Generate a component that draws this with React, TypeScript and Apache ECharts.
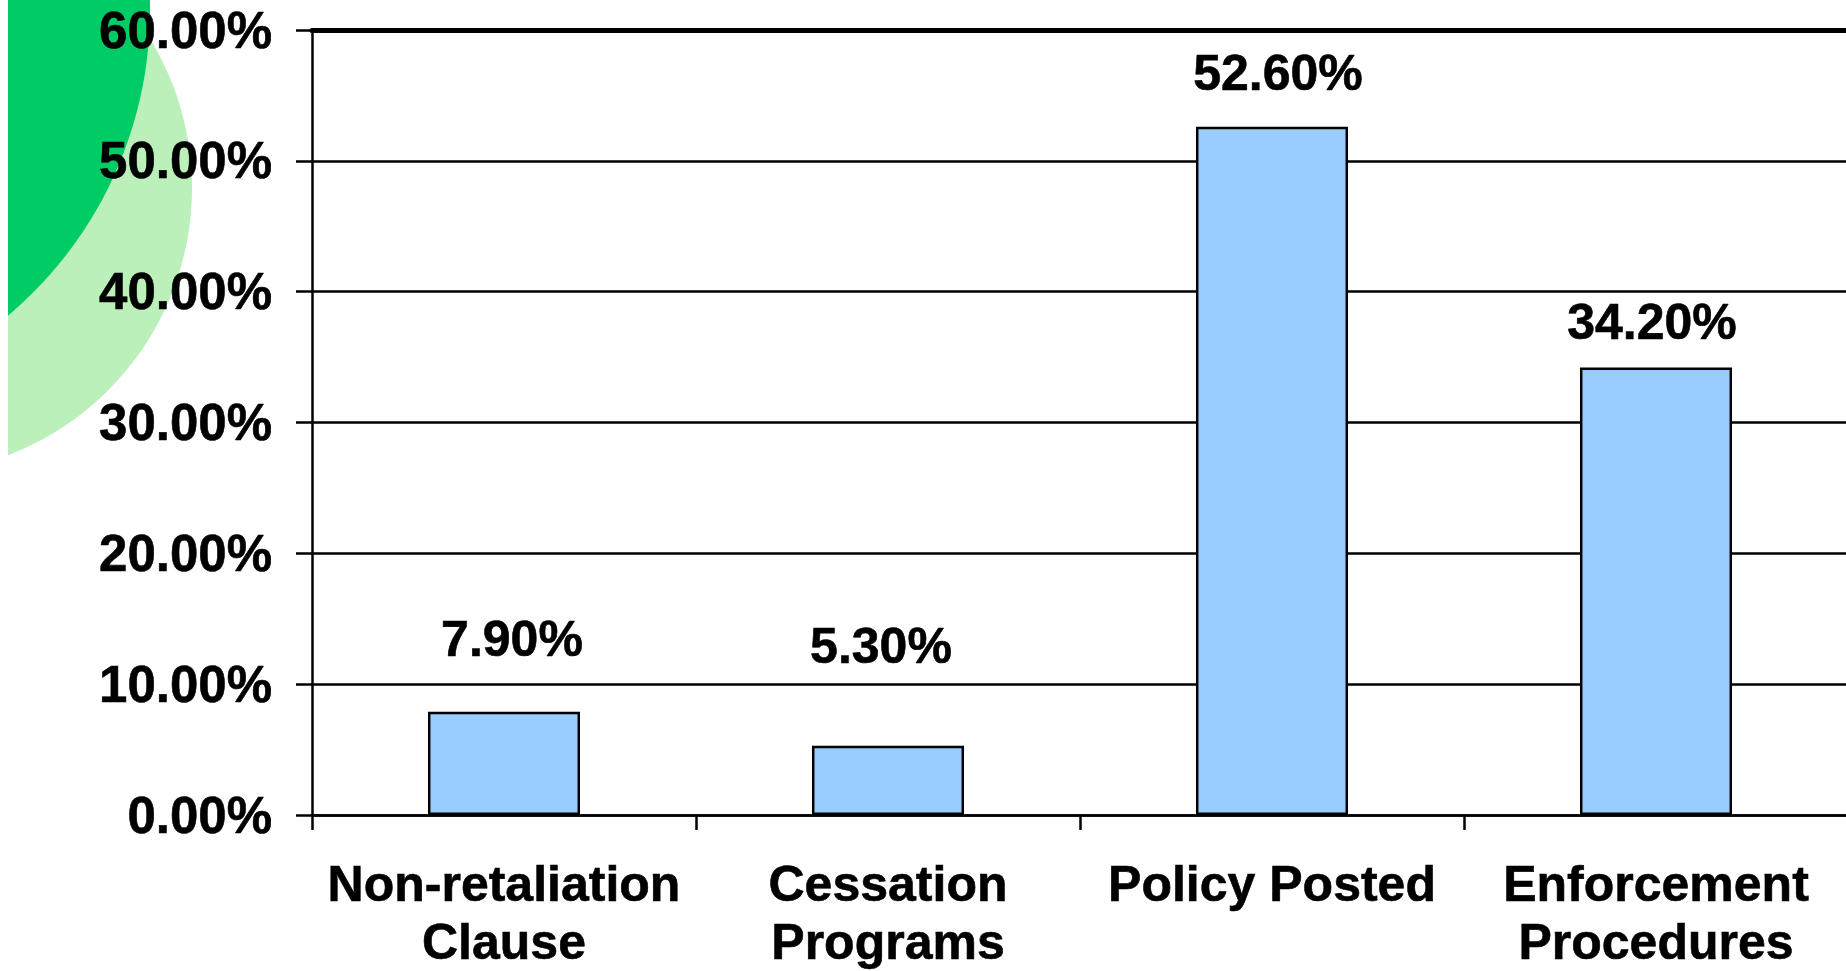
import React, { useEffect, useRef } from "react";
import * as echarts from "echarts";

const categories = ["Non-retaliation\nClause", "Cessation\nPrograms", "Policy Posted", "Enforcement\nProcedures"];
const values = [7.9, 5.3, 52.6, 34.2];
const yTicks = [0, 10, 20, 30, 40, 50, 60];
const labelDistances = [48, 75, 29, 21];
const labelShiftX = [8, -7, 6, -4];

const FONT = '"Liberation Sans", Arial, sans-serif';

export default function App() {
  const ref = useRef<HTMLDivElement>(null);
  useEffect(() => {
    const chart = echarts.init(ref.current!, null, { renderer: "svg" });
    chart.setOption({
      animation: false,
      backgroundColor: "#ffffff",
      graphic: [
        { type: "circle", z: -100, shape: { cx: -102, cy: 188, r: 286 }, style: { fill: "#BBF0BB" }, silent: true },
        { type: "circle", z: -99, shape: { cx: -258, cy: 10, r: 400 }, style: { fill: "#00CC66" }, silent: true },
      ],
      grid: { left: 304, width: 1536, top: 30, height: 785, containLabel: false, outerBoundsMode: "none" },
      xAxis: [
        {
          type: "category",
          data: categories,
          axisLine: { lineStyle: { color: "#000", width: 2.5 } },
          axisTick: { show: true, length: 15, lineStyle: { color: "#000", width: 2.5 } },
          axisLabel: {
            margin: 40,
            color: "#000",
            fontFamily: FONT,
            fontWeight: "bold",
            fontSize: 50,
            lineHeight: 58,
            interval: 0,
            textBorderColor: "#000",
            textBorderWidth: 0.6,
          },
        },
        {
          type: "category",
          position: "top",
          data: categories,
          axisLine: { lineStyle: { color: "#000", width: 5 } },
          axisTick: { show: false },
          axisLabel: { show: false },
        },
      ],
      yAxis: {
        type: "value",
        min: yTicks[0],
        max: yTicks[yTicks.length - 1],
        interval: 10,
        axisLine: { show: true, lineStyle: { color: "#000", width: 2.5 } },
        axisTick: { show: true, length: 16, lineStyle: { color: "#000", width: 2.5 } },
        splitLine: { show: true, lineStyle: { color: "#000", width: 2.5 } },
        axisLabel: {
          margin: 40,
          color: "#000",
          fontFamily: FONT,
          fontWeight: "bold",
          fontSize: 51,
          textBorderColor: "#000",
          textBorderWidth: 0.6,
          formatter: (v: number) => v.toFixed(2) + "%",
        },
      },
      series: [
        {
          type: "bar",
          barWidth: "39.6%",
          data: values.map((v, i) => ({
            value: v,
            label: { distance: labelDistances[i], offset: [labelShiftX[i], 0] },
          })),
          itemStyle: { color: "#99CCFF", borderColor: "#000", borderWidth: 2.5 },
          label: {
            show: true,
            position: "top",
            color: "#000",
            fontFamily: FONT,
            fontWeight: "bold",
            fontSize: 50,
            lineHeight: 50,
            textBorderColor: "#000",
            textBorderWidth: 0.6,
            formatter: (p: any) => p.value.toFixed(2) + "%",
          },
        },
      ],
    });
    return () => chart.dispose();
  }, []);
  return (
    <div
      ref={ref}
      style={{ position: "absolute", left: 8, top: 0, width: 1838, height: 971 }}
    />
  );
}
